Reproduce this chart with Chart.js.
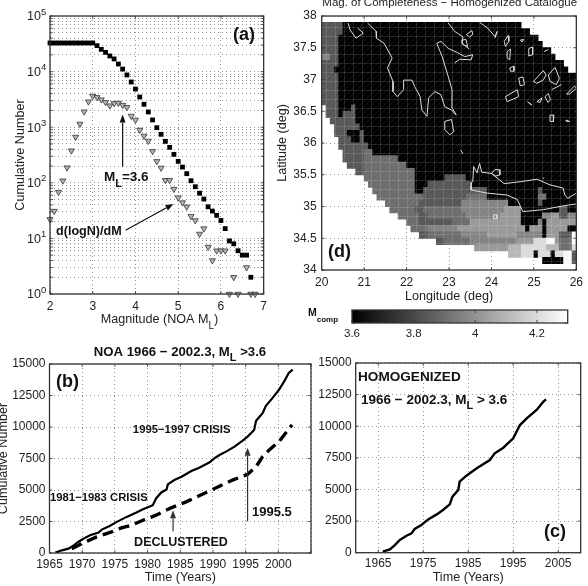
<!DOCTYPE html>
<html>
<head>
<meta charset="utf-8">
<style>
  html, body { margin: 0; padding: 0; background: #fff; width: 588px; height: 586px; overflow: hidden; }
  canvas { position: absolute; display: block; }
</style>
<script src="https://cdn.jsdelivr.net/npm/chart.js@4"></script>
</head>
<body>
<canvas id="panelA" width="272" height="335" style="left:0;top:0"></canvas>
<canvas id="panelD" width="316" height="305" style="left:272px;top:0"></canvas>
<canvas id="colorBar" width="288" height="37" style="left:300px;top:305px"></canvas>
<canvas id="panelB" width="320" height="246" style="left:0;top:340px"></canvas>
<canvas id="panelC" width="273" height="246" style="left:315px;top:340px"></canvas>
<script>
// Panel (a): magnitude-frequency distribution
const cumulativeMagnitudes = [2,2.1,2.2,2.3,2.4,2.5,2.6,2.7,2.8,2.9,3,3.1,3.2,3.3,3.4,3.5,3.6,3.7,3.8,3.9,4,4.1,4.2,4.3,4.4,4.5,4.6,4.7,4.8,4.9,5,5.1,5.2,5.3,5.4,5.5,5.6,5.7,5.8,5.9,6,6.1,6.2,6.3,6.4,6.5,6.6,6.7];
const cumulativeCounts = [32700,32700,32700,32700,32700,32700,32700,32700,32700,32700,32700,29300,25100,22200,19100,16900,13700,11100,8700,6500,4860,3490,2580,1880,1350,980,745,557,434,325,243,192,146,109,85,65,51,37,31,26,21,15,9,8,6,5,5,2];
const gradientMagnitudes = [2,2.1,2.2,2.3,2.4,2.5,2.6,2.7,2.8,2.9,3,3.1,3.2,3.3,3.4,3.5,3.6,3.7,3.8,3.9,4,4.1,4.2,4.3,4.4,4.5,4.6,4.7,4.8,4.9,5,5.1,5.2,5.3,5.4,5.5,5.6,5.7,5.8,5.9,6,6.1,6.2,6.3,6.4,6.6,6.7,6.8];
const gradientCounts = [22,31,68,109,187,378,666,1142,1900,2880,3640,3440,3130,2800,2440,2690,2720,2500,2280,1590,1350,890,695,565,368,243,185,111,111,77,54,44,37,25,21,12,15,7,4,6,6,6,1,2,1,3,1,1];
const logDecades = [1,10,100,1000,10000,100000];
const logMultipliers = [1,2,3,4,5,6,7,8,9];

// Panel (b): NOA catalogue, full and declustered
const noaYears = [1965.9,1966.9,1967.9,1968.7,1969.4,1970.2,1971.2,1972.5,1973,1974.2,1975.3,1976.8,1978.3,1979.3,1980.8,1981.3,1982.1,1982.9,1983.1,1984.1,1985.2,1986.7,1987.9,1989.5,1990.2,1991,1992,1993.3,1994.5,1995.3,1996.3,1996.6,1997.6,1998.1,1999.1,2000.1,2000.9,2001.6,2002.2];
const noaCounts = [27,212,345,610,876,1142,1407,1620,1858,2150,2470,2867,3213,3478,3797,4328,4806,5045,5443,5788,6053,6505,6770,7195,7514,7779,8045,8443,8894,9239,9770,10487,11098,11682,12293,12956,13620,14284,14549];
const declusteredYears = [1968.4,1969.9,1972.2,1974.5,1976,1977.5,1979.3,1981.3,1983.6,1985.9,1987.9,1990.5,1993,1995.3,1996.6,1997.6,1998.6,2000.1,2002.1];
const declusteredCounts = [345,743,1274,1673,1991,2204,2602,3000,3584,4062,4540,5177,5788,6240,6850,7646,8177,8841,10169];

// Panel (c): homogenized catalogue
const homogenizedYears = [1966,1967.6,1968.7,1969.8,1971.3,1972.4,1973.1,1974.6,1976.1,1978,1979.4,1980.9,1981.5,1982.8,1983.1,1984.6,1986.9,1989.8,1990.9,1992.8,1995,1996.5,1998,2000.2,2001.7,2002.3];
const homogenizedCounts = [79,264,606,1002,1344,1529,1872,2188,2636,3031,3374,3822,4428,4956,5615,6089,6669,7328,7855,8303,9041,10095,10623,11282,11941,12126];
const countTicks = [0,2500,5000,7500,10000,12500,15000];

// Panel (d): completeness magnitude on a 0.1 degree grid.
// Each row runs north to south as [firstColumn, level, nextColumn, level, ..., endColumn].
const mcompLevels = [3.6,3.7,3.78,3.84,3.9,3.96,4.02,4.1,4.2,4.28];
const cellRuns = [
  [0,3,5,0,47],[0,3,5,0,49],[0,3,4,0,51],[0,3,4,0,52],[0,3,4,0,54],[0,5,2,3,4,0,55],
  [0,3,4,0,57],[0,3,3,0,58],[0,3,4,0,60],[0,3,4,0,60],[0,3,4,0,60],[0,3,4,0,60],[0,3,4,0,60],
  [1,3,4,0,7,3,8,0,60],[1,3,4,0,5,3,8,0,60],[2,3,8,0,60],[3,3,9,0,60],
  [3,3,6,0,9,3,10,0,60],[4,3,7,0,9,3,10,0,60],[4,3,11,0,60],[5,3,10,4,12,0,60],
  [5,3,10,4,18,0,60],[6,3,10,4,20,0,60],[8,3,10,4,22,0,60],[10,4,22,0,29,3,34,0,60],
  [11,4,22,0,25,3,35,0,60],[12,4,22,0,24,3,39,0,51,3,52,0,60],
  [13,4,24,3,34,4,39,0,51,4,53,0,60],[15,4,23,3,33,5,44,0,51,3,52,0,60],
  [16,4,22,3,24,4,33,5,43,6,47,0,56,3,58,0,60],[18,4,23,3,25,4,34,5,42,6,47,0,52,5,54,6,56,3,58,5,60],
  [20,4,23,3,31,4,35,6,47,0,51,5,52,0,53,6,60],[21,4,25,5,32,6,48,0,49,6,52,0,53,6,58,0,60],
  [23,3,25,4,33,5,39,6,46,5,52,0,53,6,56,3,59,9,60],
  [27,3,29,4,35,5,46,6,50,8,53,9,55,6,56,4,59,9,60],
  [36,6,44,7,47,8,53,7,56,4,59,8,60],
  [44,7,47,8,50,0,51,8,54,0,55,8,57,9,59,3,60],
  [52,0,57,9,59,3,60]
];
const colorBarRange = [3.6,4.3];
const colorBarTicks = [3.6,3.8,4,4.2];

// Coastlines as flat lon,lat lists
const mainlandCoast = [21.08,37.89,21.28,37.76,21.29,37.65,21.47,37.57,21.66,37.34,21.55,37.18,21.68,36.97,21.68,36.81,21.78,36.73,21.93,36.84,21.93,36.99,22.13,36.99,22.19,36.89,22.32,36.73,22.36,36.52,22.48,36.42,22.52,36.71,22.67,36.81,22.81,36.76,22.90,36.57,23.06,36.52,23.17,36.44,23.06,36.57,23.07,36.84,22.98,37.05,22.84,37.36,22.71,37.57,22.81,37.60,22.98,37.49,23.21,37.42,23.37,37.36,23.56,37.39,23.52,37.31,23.25,37.32,23.13,37.26];
const crete = [23.56,35.39,23.58,35.63,23.66,35.53,23.72,35.68,23.77,35.54,24.0,35.52,24.08,35.58,24.18,35.58,24.2,35.5,24.10,35.48,24.0,35.52,24.30,35.36,24.68,35.39,25.07,35.43,25.38,35.34,25.69,35.29,25.73,35.18,25.8,35.13,26,35.21];
const creteSouth = [23.56,35.39,23.52,35.38,23.52,35.26,23.91,35.21,24.37,35.18,24.61,35.11,24.74,34.92,25.22,34.95,25.69,35.01,26,35.04];
const islands = [
  [20.62,37.89,20.67,37.78,20.81,37.65,20.98,37.73,20.85,37.81],
  [22.98,37.89,23.13,37.76,23.33,37.67,23.30,37.57,23.48,37.48],
  [23.41,37.71,23.54,37.77,23.56,37.71,23.48,37.67,23.41,37.71],
  [23.30,37.62,23.40,37.63,23.44,37.52,23.33,37.55,23.30,37.62],
  [23.72,37.9,23.91,37.81,24.08,37.68,24.14,37.76,24.08,37.65],
  [22.90,36.34,23.06,36.37,23.11,36.18,23.02,36.13,22.90,36.21,22.90,36.34],
  [24.30,37.6,24.39,37.69,24.41,37.6,24.33,37.52,24.30,37.6],
  [24.37,37.44,24.45,37.48,24.43,37.31,24.37,37.34,24.37,37.44],
  [24.43,37.18,24.53,37.21,24.53,37.13,24.45,37.13,24.43,37.18],
  [24.64,37.02,24.74,37.04,24.78,36.92,24.68,36.9,24.64,37.02],
  [24.88,37.49,24.97,37.51,24.97,37.39,24.88,37.37,24.88,37.49],
  [24.68,37.62,24.76,37.63,24.72,37.59,24.68,37.62],
  [24.99,36.97,25.22,37.14,25.29,37.07,25.22,36.99,25.07,36.94,24.99,36.97],
  [25.34,37.07,25.50,37.19,25.60,37.02,25.53,36.92,25.38,36.97,25.34,37.07],
  [24.33,36.73,24.61,36.84,24.64,36.73,24.37,36.65,24.33,36.73],
  [24.85,36.65,24.95,36.6,24.9,36.62,24.85,36.65],
  [25.07,36.65,25.19,36.71,25.15,36.64,25.07,36.65],
  [25.26,36.73,25.34,36.78,25.39,36.68,25.33,36.64,25.26,36.73],
  [25.38,36.44,25.47,36.44,25.46,36.34,25.38,36.34,25.38,36.44],
  [25.75,36.36,25.84,36.34,25.77,36.34,25.75,36.36],
  [25.42,36.84,25.65,36.92],
  [25.77,36.77,25.96,36.9,26,36.86,25.84,36.77,25.77,36.77],
  [25.24,37.44,25.34,37.47],
  [23.27,35.89,23.33,35.83],
  [24.05,34.87,24.13,34.87,24.13,34.81,24.05,34.81,24.05,34.87],
  [25.21,35.45,25.24,35.44]
];

const FONT = 'Liberation Sans, Arial, Helvetica, sans-serif';
const INK = '#222';
const GRID = '#777';

Chart.defaults.font.family = FONT;
Chart.defaults.color = INK;
Chart.defaults.animation = false;

const pairs = (xs, ys) => xs.map((x, i) => ({ x, y: ys[i] }));
const lonLat = list => { const out = []; for (let i = 0; i < list.length; i += 2) out.push({ x: list[i], y: list[i + 1] }); return out; };
const grayLevel = v => Math.round(255 * (v - colorBarRange[0]) / (colorBarRange[1] - colorBarRange[0]));

// Map tiles carry the fine lattice and diagonal hatching of the printed raster.
const tileCache = new Map();
function cellFill(ctx, v) {
  if (tileCache.has(v)) return tileCache.get(v);
  const tile = document.createElement('canvas');
  tile.width = tile.height = 18;
  const t = tile.getContext('2d');
  const g = grayLevel(v);
  t.fillStyle = `rgb(${g},${g},${g})`;
  t.fillRect(0, 0, 18, 18);
  t.fillStyle = 'rgba(255,255,255,0.07)';
  for (let y = 0; y < 18; y++) for (let x = 0; x < 18; x++) if ((x + y) % 6 === 0) t.fillRect(x, y, 1, 1);
  t.fillStyle = 'rgba(255,255,255,0.13)';
  t.fillRect(0, 0, 1, 18); t.fillRect(9, 0, 1, 18);
  t.fillRect(0, 0, 18, 1); t.fillRect(0, 9, 18, 1);
  const pattern = ctx.createPattern(tile, 'repeat');
  tileCache.set(v, pattern);
  return pattern;
}

// Frame, inward tick marks, rich-text labels and arrows for one panel.
function panelDecor({ labels = [], arrows = [], logY = false }) {
  const drawParts = (ctx, spec) => {
    const size = spec.size || 12;
    const weight = spec.bold === false ? '' : 'bold ';
    const mainFont = `${weight}${size}px ${FONT}`;
    const subFont = `${weight}${Math.round(size * 0.8)}px ${FONT}`;
    let width = 0;
    spec.parts.forEach(p => { ctx.font = p.sub ? subFont : mainFont; width += ctx.measureText(p.t).width; });
    let x = spec.align === 'center' ? spec.x - width / 2 : spec.x;
    ctx.textAlign = 'left';
    ctx.textBaseline = 'middle';
    ctx.fillStyle = spec.color || '#111';
    spec.parts.forEach(p => {
      ctx.font = p.sub ? subFont : mainFont;
      ctx.fillText(p.t, x, spec.y + (p.sub ? (spec.subDrop || size * 0.55) : 0));
      x += ctx.measureText(p.t).width;
    });
  };
  return {
    id: 'panelDecor',
    afterDraw(chart) {
      const { ctx, chartArea: a, scales } = chart;
      ctx.save();
      ctx.strokeStyle = '#333';
      ctx.lineWidth = 1.3;
      ctx.strokeRect(a.left, a.top, a.right - a.left, a.bottom - a.top);
      ctx.lineWidth = 0.8;
      ctx.beginPath();
      scales.x.ticks.forEach(t => {
        const p = scales.x.getPixelForValue(t.value);
        ctx.moveTo(p, a.bottom); ctx.lineTo(p, a.bottom - 3);
        ctx.moveTo(p, a.top); ctx.lineTo(p, a.top + 3);
      });
      scales.y.ticks.forEach(t => {
        const p = scales.y.getPixelForValue(t.value);
        ctx.moveTo(a.left, p); ctx.lineTo(a.left + 3, p);
        ctx.moveTo(a.right, p); ctx.lineTo(a.right - 3, p);
      });
      ctx.stroke();
      if (logY) {
        logDecades.forEach((v, i) => {
          const p = scales.y.getPixelForValue(v);
          ctx.fillStyle = INK;
          ctx.textBaseline = 'middle';
          ctx.textAlign = 'right';
          ctx.font = `12.5px ${FONT}`;
          ctx.fillText('10', a.left - 9, p + 1);
          ctx.textAlign = 'left';
          ctx.font = `9.5px ${FONT}`;
          ctx.fillText(String(i), a.left - 9, p - 4);
        });
      }
      arrows.forEach(ar => {
        const x0 = scales.x.getPixelForValue(ar.from[0]), y0 = scales.y.getPixelForValue(ar.from[1]);
        const x1 = scales.x.getPixelForValue(ar.to[0]), y1 = scales.y.getPixelForValue(ar.to[1]);
        const ang = Math.atan2(y1 - y0, x1 - x0);
        const len = 8, half = 3;
        ctx.strokeStyle = ar.color || '#111';
        ctx.fillStyle = ar.color || '#111';
        ctx.lineWidth = 1.2;
        ctx.beginPath();
        ctx.moveTo(x0, y0);
        ctx.lineTo(x1 - Math.cos(ang) * len, y1 - Math.sin(ang) * len);
        ctx.stroke();
        ctx.beginPath();
        ctx.moveTo(x1, y1);
        ctx.lineTo(x1 - Math.cos(ang) * len - Math.sin(ang) * half, y1 - Math.sin(ang) * len + Math.cos(ang) * half);
        ctx.lineTo(x1 - Math.cos(ang) * len + Math.sin(ang) * half, y1 - Math.sin(ang) * len - Math.cos(ang) * half);
        ctx.closePath();
        ctx.fill();
      });
      labels.forEach(l => drawParts(ctx, l));
      ctx.restore();
    }
  };
}

// Shared axis options: the boxes are fixed so the plot areas stay where they are wanted.
function axis(box, extra) {
  const horizontal = box.height !== undefined;
  return Object.assign({
    type: 'linear',
    offset: false,
    grid: { color: GRID, lineWidth: 0.8, drawTicks: false, offset: false },
    border: { display: false, dash: [1, 3] },
    afterFit(scale) { if (horizontal) scale.height = box.height; else scale.width = box.width; }
  }, extra);
}
const tickOpts = (extra) => Object.assign({ font: { size: 12, family: FONT }, color: INK, padding: 5, maxRotation: 0, autoSkip: false, callback: v => String(v) }, extra);
const axisTitle = (text, padding) => ({ display: true, text, color: INK, font: { size: 12.6, family: FONT }, padding });
const baseOptions = {
  responsive: false,
  animation: false,
  devicePixelRatio: 1,
  plugins: { legend: { display: false }, tooltip: { enabled: false } },
  events: []
};

// Panel (a)
new Chart(document.getElementById('panelA'), {
  type: 'scatter',
  data: {
    datasets: [
      { data: pairs(gradientMagnitudes, gradientCounts), pointStyle: 'triangle', rotation: 180, pointRadius: 3.5,
        backgroundColor: '#b4b4b4', borderColor: '#333', borderWidth: 0.8, clip: false },
      { data: pairs(cumulativeMagnitudes, cumulativeCounts), pointStyle: 'rect', pointRadius: 3.4,
        backgroundColor: '#000', borderColor: '#000', borderWidth: 0, clip: false }
    ]
  },
  options: Object.assign({}, baseOptions, {
    layout: { padding: { left: 0, right: 6, top: 16, bottom: 0 } },
    scales: {
      x: axis({ height: 41 }, { min: 2, max: 7, ticks: tickOpts({ stepSize: 1 }) }),
      y: axis({ width: 50 }, {
        type: 'logarithmic', min: 1, max: 100000,
        ticks: tickOpts({ callback: () => '' }),
        afterBuildTicks(scale) {
          const values = [];
          logDecades.forEach(d => logMultipliers.forEach(m => { if (d * m <= 100000) values.push(d * m); }));
          scale.ticks = values.map(value => ({ value }));
        },
        title: axisTitle('Cumulative Number', { top: 12.5, bottom: 0 })
      })
    }
  }),
  plugins: [panelDecor({
    logY: true,
    labels: [
      { x: 233, y: 35, size: 18, parts: [{ t: '(a)' }] },
      { x: 104, y: 177, size: 13.5, parts: [{ t: 'M' }, { t: 'L', sub: true }, { t: '=3.6' }] },
      { x: 56, y: 232, size: 12.6, parts: [{ t: 'd(logN)/dM' }] },
      { x: 100.7, y: 320, size: 12.6, bold: false, color: INK, subDrop: 6, parts: [{ t: 'Magnitude (NOA M' }, { t: 'L', sub: true }, { t: ')' }] }
    ],
    arrows: [
      { from: [3.7, 195], to: [3.7, 1700] },
      { from: [3.77, 14], to: [4.89, 41.6] }
    ]
  })]
});

// Panel (d): gridded completeness magnitude with coastlines on top
const cellBars = [];
cellRuns.forEach((row, r) => {
  for (let i = 0; i + 2 < row.length; i += 2) {
    cellBars.push({ x: [20 + row[i] / 10, 20 + row[i + 2] / 10], y: 37.85 - r / 10, v: mcompLevels[row[i + 1]] });
  }
});
const coastSets = [mainlandCoast, crete, creteSouth].concat(islands).map(list => ({
  type: 'scatter', indexAxis: 'x', showLine: true, data: lonLat(list),
  pointRadius: 0, borderColor: '#ddd', borderWidth: 1, tension: 0, order: 0
}));
new Chart(document.getElementById('panelD'), {
  type: 'bar',
  data: {
    datasets: [{
      data: cellBars,
      barThickness: 6.5,
      order: 1,
      backgroundColor: c => cellFill(c.chart.ctx, c.raw.v),
      borderWidth: 0
    }].concat(coastSets)
  },
  options: Object.assign({}, baseOptions, {
    indexAxis: 'y',
    layout: { padding: { left: 0, right: 8, top: 16, bottom: 0 } },
    scales: {
      x: axis({ height: 35 }, {
        min: 20, max: 26, ticks: tickOpts({ stepSize: 1 }),
        title: axisTitle('Longitude (deg)', { top: 0, bottom: 0.8 })
      }),
      y: axis({ width: 49.7 }, {
        min: 34, max: 38, ticks: tickOpts({ stepSize: 0.5 }),
        title: axisTitle('Latitude (deg)', { top: 3.2, bottom: 0 })
      })
    }
  }),
  plugins: [panelDecor({
    labels: [
      { x: 56, y: 252, size: 18, parts: [{ t: '(d)' }] },
      { x: 177.7, y: 3, size: 11.5, bold: false, color: INK, align: 'center', parts: [{ t: 'Mag. of Completeness \u2212 Homogenized Catalogue' }] }
    ]
  })]
});

// Colour bar for panel (d)
new Chart(document.getElementById('colorBar'), {
  type: 'bar',
  data: {
    datasets: [{
      data: [{ x: colorBarRange, y: 0.5 }],
      barThickness: 13,
      borderWidth: 0,
      backgroundColor: c => {
        const area = c.chart.chartArea;
        if (!area) return '#888';
        const g = c.chart.ctx.createLinearGradient(area.left, 0, area.right, 0);
        g.addColorStop(0, '#000');
        g.addColorStop(1, '#fff');
        return g;
      }
    }]
  },
  options: Object.assign({}, baseOptions, {
    indexAxis: 'y',
    layout: { padding: { left: 52, right: 20.3, top: 5, bottom: 0 } },
    scales: {
      x: axis({ height: 19 }, {
        min: colorBarRange[0], max: colorBarRange[1],
        grid: { display: false, drawTicks: false },
        ticks: tickOpts({ font: { size: 11.5, family: FONT }, padding: 4 }),
        afterBuildTicks(scale) { scale.ticks = colorBarTicks.map(value => ({ value })); }
      }),
      y: { type: 'linear', min: 0, max: 1, display: false, offset: false, grid: { offset: false } }
    }
  }),
  plugins: [panelDecor({
    labels: [
      { x: 8, y: 8, size: 10.5, subDrop: 7, parts: [{ t: 'M' }, { t: 'comp', sub: true }] }
    ]
  })]
});

// Panel (b)
new Chart(document.getElementById('panelB'), {
  type: 'scatter',
  data: {
    datasets: [
      { showLine: true, data: pairs(noaYears, noaCounts), pointRadius: 0, borderColor: '#000', borderWidth: 2.2, tension: 0 },
      { showLine: true, data: pairs(declusteredYears, declusteredCounts), pointRadius: 0, borderColor: '#000', borderWidth: 3.4, borderDash: [11, 6], tension: 0 }
    ]
  },
  options: Object.assign({}, baseOptions, {
    layout: { padding: { left: 0, right: 9, top: 24, bottom: 0 } },
    scales: {
      x: axis({ height: 33 }, {
        min: 1965, max: 2005,
        ticks: tickOpts({ stepSize: 5, padding: 4, callback: v => v === 2005 ? '' : String(v) }),
        title: axisTitle('Time (Years)', { top: 0, bottom: 0.8 })
      }),
      y: axis({ width: 49.5 }, {
        min: 0, max: 15000,
        ticks: tickOpts({ padding: 4 }),
        afterBuildTicks(scale) { scale.ticks = countTicks.map(value => ({ value })); },
        title: axisTitle('Cumulative Number', { top: -4.5, bottom: 0 })
      })
    }
  }),
  plugins: [panelDecor({
    labels: [
      { x: 56, y: 42, size: 18, parts: [{ t: '(b)' }] },
      { x: 180, y: 12, size: 13.2, align: 'center', subDrop: 6, parts: [{ t: 'NOA 1966 \u2212 2002.3, M' }, { t: 'L', sub: true }, { t: ' >3.6' }] },
      { x: 181.7, y: 89.7, size: 11.3, align: 'center', parts: [{ t: '1995\u22121997 CRISIS' }] },
      { x: 50, y: 157.7, size: 11.3, parts: [{ t: '1981\u22121983 CRISIS' }] },
      { x: 181, y: 203, size: 12.5, align: 'center', parts: [{ t: 'DECLUSTERED' }] },
      { x: 252, y: 172.7, size: 13, parts: [{ t: '1995.5' }] }
    ],
    arrows: [
      { from: [1995.3, 2520], to: [1995.3, 8360], color: '#333' },
      { from: [1983.9, 1730], to: [1983.9, 3400], color: '#333' }
    ]
  })]
});

// Panel (c)
new Chart(document.getElementById('panelC'), {
  type: 'scatter',
  data: {
    datasets: [
      { showLine: true, data: pairs(homogenizedYears, homogenizedCounts), pointRadius: 0, borderColor: '#000', borderWidth: 2.4, tension: 0 }
    ]
  },
  options: Object.assign({}, baseOptions, {
    layout: { padding: { left: 0, right: 7.3, top: 23, bottom: 0 } },
    scales: {
      x: axis({ height: 33.3 }, {
        min: 1960, max: 2010,
        ticks: tickOpts({ padding: 4 }),
        afterBuildTicks(scale) { scale.ticks = [1965, 1975, 1985, 1995, 2005].map(value => ({ value })); },
        title: axisTitle('Time (Years)', { top: 0, bottom: 0.8 })
      }),
      y: axis({ width: 40.7 }, {
        min: 0, max: 15000,
        ticks: tickOpts({ padding: 4 }),
        afterBuildTicks(scale) { scale.ticks = countTicks.map(value => ({ value })); }
      })
    }
  }),
  plugins: [panelDecor({
    labels: [
      { x: 43, y: 37, size: 13.6, parts: [{ t: 'HOMOGENIZED' }] },
      { x: 46, y: 60, size: 13.5, subDrop: 6, parts: [{ t: '1966 \u2212 2002.3, M' }, { t: 'L', sub: true }, { t: ' > 3.6' }] },
      { x: 229, y: 192, size: 18, parts: [{ t: '(c)' }] }
    ]
  })]
});
</script>
</body>
</html>
